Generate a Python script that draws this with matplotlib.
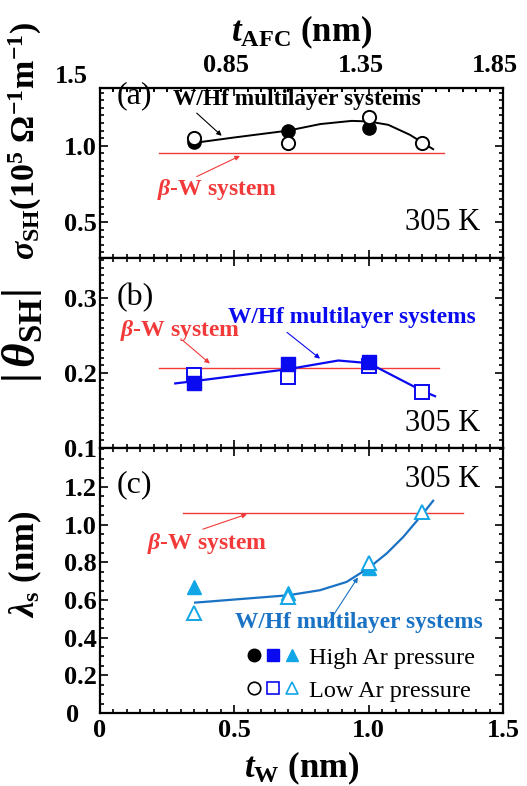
import matplotlib
matplotlib.use('Agg')
import matplotlib.pyplot as plt
from matplotlib.ticker import MultipleLocator, FixedLocator, FuncFormatter
from matplotlib.legend_handler import HandlerTuple
from matplotlib.transforms import ScaledTranslation
from matplotlib.lines import Line2D

plt.rcParams['font.family'] = ['Liberation Serif', 'DejaVu Serif']
plt.rcParams['font.weight'] = 'bold'
plt.rcParams['axes.labelweight'] = 'bold'
plt.rcParams['mathtext.fontset'] = 'custom'
plt.rcParams['mathtext.rm'] = 'Liberation Serif:bold'
plt.rcParams['mathtext.it'] = 'Liberation Serif:italic:bold'
plt.rcParams['mathtext.bf'] = 'Liberation Serif:bold'

# ---------------- data ----------------
# panel (a): spin Hall conductivity (1e5 Ohm^-1 m^-1)
sig_high_x = [0.35, 0.70, 1.00]
sig_high = [1.025, 1.10, 1.115]
sig_low_x = [0.35, 0.70, 1.00, 1.20]
sig_low = [1.05, 1.02, 1.19, 1.02]
sig_fit_x = [0.345, 0.50, 0.70, 0.82, 0.937, 1.00, 1.073, 1.154, 1.203, 1.24]
sig_fit = [1.018, 1.055, 1.10, 1.143, 1.164, 1.16, 1.138, 1.072, 1.018, 0.978]
sig_bw_x = [0.22, 1.28]
sig_bw = [0.956, 0.956]

# panel (b): |theta_SH|
th_high_x = [0.35, 0.70, 1.00]
th_high = [0.186, 0.212, 0.214]
th_low_x = [0.35, 0.70, 1.00, 1.20]
th_low = [0.197, 0.195, 0.209, 0.175]
th_fit_x = [0.28, 0.35, 0.70, 0.887, 1.00, 1.20, 1.247]
th_fit = [0.186, 0.189, 0.205, 0.2165, 0.213, 0.176, 0.169]
th_bw_x = [0.22, 1.263]
th_bw = [0.206, 0.206]

# panel (c): lambda_s (nm)
lam_high_x = [0.35, 0.70, 1.00]
lam_high = [0.669, 0.637, 0.772]
lam_low_x = [0.35, 0.70, 1.00, 1.20]
lam_low = [0.531, 0.616, 0.797, 1.068]
lam_fit_x = [0.354, 0.70, 0.819, 0.918, 1.00, 1.067, 1.129, 1.203, 1.24]
lam_fit = [0.586, 0.625, 0.652, 0.696, 0.770, 0.847, 0.935, 1.06, 1.127]
lam_bw_x = [0.31, 1.35]
lam_bw = [1.06, 1.06]

afc_offset = 0.35
afc_ticks = [0.85, 1.35, 1.85]

BLACK = 'black'
BLUE = '#0a0af0'
CYAN = '#12a6e6'
CBLUE = '#1a72c4'
RED = '#f23a3a'

fig = plt.figure(figsize=(5.27, 7.86), dpi=100)
L, W = 100 / 527, 403 / 527
ax_a = fig.add_axes([L, 1 - 258 / 786, W, 170 / 786])
ax_b = fig.add_axes([L, 1 - 448 / 786, W, 190 / 786])
ax_c = fig.add_axes([L, 1 - 713 / 786, W, 265 / 786])

TLS = 19
for ax in (ax_a, ax_b, ax_c):
    ax.set_xlim(0, 1.5)
    ax.xaxis.set_major_locator(MultipleLocator(0.5))
    ax.xaxis.set_minor_locator(MultipleLocator(0.05))
    ax.tick_params(which='both', direction='in', top=True, right=True,
                   width=1.2, labelsize=TLS, pad=2)
    ax.tick_params(which='major', length=6)
    ax.tick_params(which='minor', length=3)
    for s in ax.spines.values():
        s.set_linewidth(1.6)

ms = 9.5
tfs = 16.8
bfs = 17
kfs = 22
afs = dict(arrowstyle='-|>', lw=0.8, mutation_scale=7, shrinkA=0, shrinkB=0)

# ---------- panel a ----------
ax_a.set_ylim(0.263, 1.38)
ax_a.yaxis.set_major_locator(FixedLocator([0.5, 1.0]))
ax_a.yaxis.set_minor_locator(MultipleLocator(0.05))
ax_a.tick_params(labelbottom=False, top=False)
ax_a.yaxis.set_major_formatter(FuncFormatter(lambda v, p: f'{v:.1f}'))
ax_a.plot(sig_bw_x, sig_bw, color=RED, lw=1.0)
ax_a.plot(sig_fit_x, sig_fit, color=BLACK, lw=1.4)
ax_a.plot(sig_high_x, sig_high, 'o', color=BLACK, ms=ms, ls='none')
ax_a.plot(sig_low_x, sig_low, 'o', mfc='white', mec=BLACK, mew=1.4, ms=ms, ls='none')
ax_a.text(-0.03, 1.065, '1.5', transform=ax_a.transAxes, ha='right', va='center',
          fontsize=TLS, fontweight='bold')
ax_a.text(0.042, 0.955, '(a)', transform=ax_a.transAxes, ha='left', va='center',
          fontsize=23, fontweight='normal')
ax_a.text(0.943, 0.21, '305 K', transform=ax_a.transAxes, ha='right', va='center',
          fontsize=kfs, fontweight='normal')
ax_a.text(0.272, 1.303, 'W/Hf multilayer systems', ha='left', va='center',
          fontsize=tfs, color=BLACK)
ax_a.annotate('', xy=(0.453, 1.066), xytext=(0.36, 1.215),
              arrowprops=dict(color=BLACK, **afs))
ax_a.text(0.212, 0.711, r'$\beta$-W system', ha='left', va='center',
          fontsize=bfs, color=RED)
ax_a.annotate('', xy=(0.521, 0.934), xytext=(0.36, 0.798),
              arrowprops=dict(color=RED, **afs))
ax_a.set_ylabel(r'$\sigma_{\rm SH}$(10$^{5}$ $\Omega^{-1}$m$^{-1}$)', fontsize=24.5)
ax_a.yaxis.set_label_coords(-0.14, 0.69)

sec = ax_a.secondary_xaxis('top', functions=(lambda x: x + afc_offset,
                                              lambda x: x - afc_offset))
sec.xaxis.set_major_locator(FixedLocator(afc_ticks))
sec.xaxis.set_minor_locator(MultipleLocator(0.05))
sec.xaxis.set_major_formatter(FuncFormatter(lambda v, p: f'{v:.2f}'))
sec.tick_params(which='both', direction='in', width=1.2, labelsize=TLS, pad=8)
sec.tick_params(which='major', length=6)
sec.tick_params(which='minor', length=3)
sec.set_xlabel(r'$t_{\rm AFC}$ (nm)', fontsize=25, labelpad=9)
for lab in sec.xaxis.get_majorticklabels():
    lab.set_transform(lab.get_transform() + ScaledTranslation(-8 / 100, 0, fig.dpi_scale_trans))

# ---------- panel b ----------
ax_b.set_ylim(0.1, 0.353)
ax_b.yaxis.set_major_locator(FixedLocator([0.1, 0.2, 0.3]))
ax_b.yaxis.set_minor_locator(MultipleLocator(0.01))
ax_b.tick_params(labelbottom=False)
ax_b.plot(th_bw_x, th_bw, color=RED, lw=1.0)
ax_b.plot(th_fit_x, th_fit, color=BLUE, lw=1.6)
ax_b.plot(th_low_x, th_low, 's', mfc='white', mec=BLUE, mew=1.4, ms=ms, ls='none')
ax_b.plot(th_high_x, th_high, 's', color=BLUE, ms=ms, ls='none')
ax_b.text(0.042, 0.79, '(b)', transform=ax_b.transAxes, ha='left', va='center',
          fontsize=23, fontweight='normal')
ax_b.text(0.943, 0.13, '305 K', transform=ax_b.transAxes, ha='right', va='center',
          fontsize=kfs, fontweight='normal')
ax_b.text(0.476, 0.274, 'W/Hf multilayer systems', ha='left', va='center',
          fontsize=tfs, color=BLUE)
ax_b.annotate('', xy=(0.819, 0.219), xytext=(0.696, 0.254),
              arrowprops=dict(color=BLUE, **afs))
ax_b.text(0.074, 0.257, r'$\beta$-W system', ha='left', va='center',
          fontsize=bfs, color=RED)
ax_b.annotate('', xy=(0.409, 0.2125), xytext=(0.309, 0.243),
              arrowprops=dict(color=RED, **afs))
ax_b.set_ylabel(r'$\left|\,\theta_{\rm SH}\right|$', fontsize=34)
ax_b.yaxis.set_label_coords(-0.135, 0.59)

# ---------- panel c ----------
ax_c.set_ylim(0, 1.407)
ax_c.yaxis.set_major_locator(FixedLocator([0, 0.2, 0.4, 0.6, 0.8, 1.0, 1.2]))
ax_c.yaxis.set_minor_locator(MultipleLocator(0.05))
ax_c.yaxis.set_major_formatter(FuncFormatter(lambda v, p: '0' if v == 0 else f'{v:.1f}'))
ax_c.xaxis.set_major_formatter(FuncFormatter(lambda v, p: '0' if v == 0 else f'{v:.1f}'))
ax_c.tick_params(axis='x', pad=4)
ax_c.plot(lam_bw_x, lam_bw, color=RED, lw=1.0)
ax_c.plot(lam_fit_x, lam_fit, color=CBLUE, lw=1.6)
ax_c.plot(lam_high_x, lam_high, '^', color=CYAN, ms=ms, ls='none')
ax_c.plot(lam_low_x, lam_low, '^', mfc='white', mec=CYAN, mew=1.4, ms=ms, ls='none')
ax_c.text(0.943, 0.88, '305 K', transform=ax_c.transAxes, ha='right', va='center',
          fontsize=kfs, fontweight='normal')
ax_c.text(0.042, 0.86, '(c)', transform=ax_c.transAxes, ha='left', va='center',
          fontsize=23, fontweight='normal')
ax_c.text(0.175, 0.90, r'$\beta$-W system', ha='left', va='center',
          fontsize=bfs, color=RED)
ax_c.annotate('', xy=(0.547, 1.056), xytext=(0.383, 0.976),
              arrowprops=dict(color=RED, **afs))
ax_c.text(0.502, 0.483, 'W/Hf multilayer systems', ha='left', va='center',
          fontsize=tfs, color=CBLUE)
ax_c.annotate('', xy=(0.96, 0.72), xytext=(0.849, 0.476),
              arrowprops=dict(color=CBLUE, **afs))
ax_c.set_ylabel(r'$\lambda_{\rm s}$ (nm)', fontsize=25)
ax_c.yaxis.set_label_coords(-0.14, 0.56)
ax_c.set_xlabel(r'$t_{\rm W}$ (nm)', fontsize=25, labelpad=6)
# the "0" y tick label sits further left in the reference
ax_c.yaxis.get_majorticklabels()[0].set_transform(
    ax_c.yaxis.get_majorticklabels()[0].get_transform()
    + ScaledTranslation(-18 / 100, 0, fig.dpi_scale_trans))

# legend
lms = 9
hc = Line2D([], [], marker='o', color=BLACK, ms=lms, ls='none')
hs = Line2D([], [], marker='s', color=BLUE, ms=lms, ls='none')
ht = Line2D([], [], marker='^', color=CYAN, ms=lms, ls='none')
oc = Line2D([], [], marker='o', mfc='white', mec=BLACK, mew=1.2, ms=lms, ls='none')
os_ = Line2D([], [], marker='s', mfc='white', mec=BLUE, mew=1.2, ms=lms, ls='none')
ot = Line2D([], [], marker='^', mfc='white', mec=CYAN, mew=1.2, ms=lms, ls='none')
leg = ax_c.legend([(hc, hs, ht), (oc, os_, ot)], ['High Ar pressure', 'Low Ar pressure'],
                  handler_map={tuple: HandlerTuple(ndivide=None, pad=0.15)},
                  loc='lower right', bbox_to_anchor=(0.985, -0.04), frameon=False,
                  handlelength=2.2, handletextpad=0.4, labelspacing=0.45,
                  prop={'family': 'Liberation Serif', 'weight': 'normal', 'size': 17.5})

fig.savefig('out.png', dpi=100)
